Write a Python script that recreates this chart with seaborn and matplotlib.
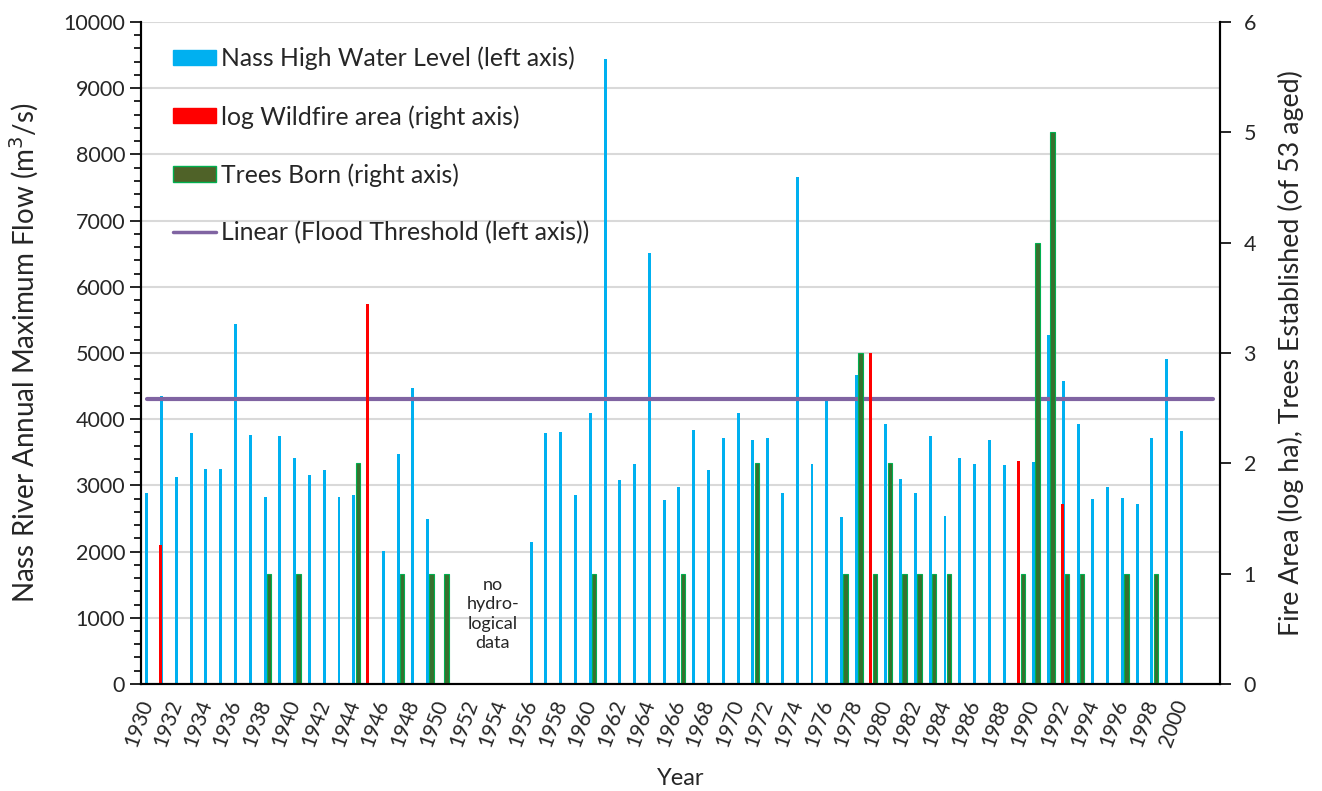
import numpy as np
import pandas as pd
import matplotlib
matplotlib.use('Agg')
import matplotlib.pyplot as plt
from matplotlib.patches import Patch
from matplotlib.lines import Line2D
from matplotlib.ticker import MultipleLocator
import seaborn as sns

# Nass River annual maximum flow (m3/s), left axis
flow_years = [1930, 1931, 1932, 1933, 1934, 1935, 1936, 1937, 1938, 1939,
              1940, 1941, 1942, 1943, 1944, 1946, 1947, 1948, 1949,
              1956, 1957, 1958, 1959, 1960, 1961, 1962, 1963, 1964, 1965,
              1966, 1967, 1968, 1969, 1970, 1971, 1972, 1973, 1974, 1975,
              1976, 1977, 1978, 1980, 1981, 1982, 1983, 1984, 1985, 1986,
              1987, 1988, 1990, 1991, 1992, 1993, 1994, 1995, 1996, 1997,
              1998, 1999, 2000]
flow_values = [2890, 4350, 3130, 3790, 3240, 3240, 5440, 3760, 2820, 3740,
               3420, 3160, 3230, 2820, 2850, 2010, 3480, 4470, 2490,
               2140, 3790, 3800, 2850, 4100, 9440, 3080, 3330, 6510, 2780,
               2970, 3840, 3230, 3710, 4100, 3680, 3710, 2880, 7660, 3330,
               4280, 2520, 4660, 3920, 3100, 2880, 3740, 2540, 3420, 3330,
               3680, 3310, 3360, 5270, 4580, 3920, 2800, 2980, 2810, 2720,
               3710, 4910, 3820]

# log wildfire area (right axis)
fire_years = [1931, 1945, 1979, 1989, 1992]
fire_values = [1.26, 3.44, 3.0, 2.02, 1.63]

# trees born (right axis)
tree_years = [1938, 1940, 1944, 1947, 1949, 1950, 1960, 1966, 1971, 1977,
              1978, 1979, 1980, 1981, 1982, 1983, 1984, 1989, 1990, 1991,
              1992, 1993, 1996, 1998]
tree_values = [1, 1, 2, 1, 1, 1, 1, 1, 2, 1,
               3, 1, 2, 1, 1, 1, 1, 1, 4, 5,
               1, 1, 1, 1]

# flood threshold trend line (left axis)
flood_years = [1930, 2002.1]
flood_values = [4300, 4300]

tick_years = list(range(1930, 2001, 2))

BLUE = '#00B0F0'
RED = '#FF0000'
GREEN_FILL = '#38702E'
GREEN_EDGE = '#00B050'
PURPLE = '#8064A2'

sns.set_style('white')
plt.rcParams['font.family'] = ['Lato', 'DejaVu Sans']

fig, ax = plt.subplots(figsize=(13.22, 7.91), dpi=100)
fig.subplots_adjust(left=0.1067, right=0.9228, top=0.9722, bottom=0.1353)
ax2 = ax.twinx()

flow_df = pd.DataFrame({'year': flow_years, 'flow': flow_values})
fire_df = pd.DataFrame({'year': np.array(fire_years) - 0.05, 'fire': fire_values})
tree_df = pd.DataFrame({'year': np.array(tree_years) + 0.27, 'trees': tree_values})

sns.barplot(data=flow_df, x='year', y='flow', native_scale=True, width=0.2,
            color=BLUE, saturation=1, errorbar=None, linewidth=0, ax=ax)
sns.lineplot(x=flood_years, y=flood_values, color=PURPLE, linewidth=3, ax=ax)

# native width is the smallest gap between bars, so scale it back to ~0.2 year
fire_step = np.diff(fire_years).min()
sns.barplot(data=fire_df, x='year', y='fire', native_scale=True, width=0.2 / fire_step,
            color=RED, saturation=1, errorbar=None, linewidth=0, ax=ax2)
sns.barplot(data=tree_df, x='year', y='trees', native_scale=True, width=0.3,
            color=GREEN_FILL, saturation=1, errorbar=None, linewidth=0.8,
            edgecolor=GREEN_EDGE, ax=ax2)

ax.set_xlim(1929.61, 2002.6)
ax.set_ylim(0, 10000)
ax2.set_ylim(0, 6)

ax.yaxis.set_major_locator(MultipleLocator(1000))
ax.yaxis.set_minor_locator(MultipleLocator(200))
ax.yaxis.grid(True, which='major', color='#D9D9D9', linewidth=1.5)
ax.set_axisbelow(True)

ax.set_xticks(tick_years)
ax.set_xticklabels([str(y) for y in tick_years], rotation=70, ha='right',
                   va='center', rotation_mode='anchor', fontsize=15)
ax.tick_params(axis='x', length=0, pad=12)
ax.tick_params(axis='y', which='major', direction='out', length=8, width=1.2,
               labelsize=15.5, left=True, color='black')
ax.tick_params(axis='y', which='minor', direction='out', length=5, width=1.2,
               left=True, color='black')
ax2.set_yticks(range(0, 7))
ax2.tick_params(axis='y', direction='out', length=8, width=1.2, labelsize=15.5,
                right=True, color='black', pad=9)

for a in (ax, ax2):
    a.spines['top'].set_visible(False)
    for s in ('left', 'right', 'bottom'):
        a.spines[s].set_color('black')
        a.spines[s].set_linewidth(1.5)

ax.set_xlabel('Year', fontsize=17, labelpad=13)
ax.set_ylabel('Nass River Annual Maximum Flow (m$^3$/s)', fontsize=20, labelpad=16)
ax2.set_ylabel('Fire Area (log ha), Trees Established (of 53 aged)', fontsize=19.3,
               rotation=90, labelpad=16)

ax.text(1953.4, 1057, 'no\nhydro-\nlogical\ndata', ha='center', va='center',
        fontsize=13, color='#262626', linespacing=1.25)

handles = [
    Patch(facecolor=BLUE, edgecolor=BLUE),
    Patch(facecolor=RED, edgecolor=RED),
    Patch(facecolor='#4F6228', edgecolor=GREEN_EDGE),
    Line2D([0], [0], color=PURPLE, linewidth=2.5),
]
labels = ['Nass High Water Level (left axis)', 'log Wildfire area (right axis)',
          'Trees Born (right axis)', 'Linear (Flood Threshold (left axis))']
ax2.legend(handles, labels, loc='upper left', bbox_to_anchor=(0.0067, 1.0),
           frameon=False, fontsize=17.8, handlelength=1.75, handleheight=0.57,
           handletextpad=0.2, labelspacing=1.4, borderaxespad=0.6)

fig.savefig('out.png', dpi=100)
